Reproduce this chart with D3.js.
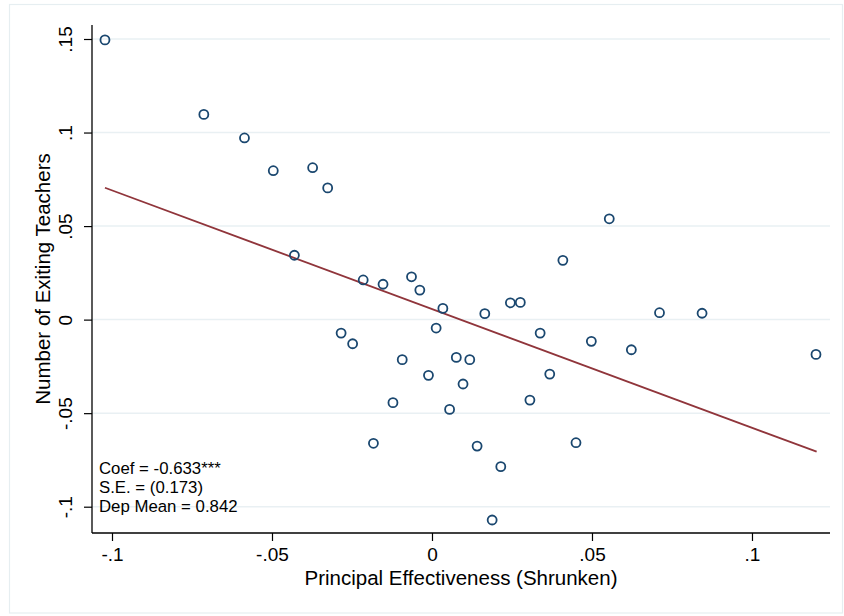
<!DOCTYPE html>
<html>
<head>
<meta charset="utf-8">
<script src="https://cdn.jsdelivr.net/npm/d3@7"></script>
<style>
body { margin: 0; background: #fff; }
svg { display: block; font-family: "Liberation Sans", Arial, sans-serif; }
</style>
</head>
<body>
<script>
// principal effectiveness (x) vs number of exiting teachers (y)
var effect = [-0.1022, -0.0713, -0.0586, -0.0496, -0.0373, -0.0326, -0.0430, -0.0215, -0.0153, -0.0064,
              -0.0038, 0.0034, 0.0013, 0.0165, 0.0245, 0.0276, 0.0338, -0.0284, -0.0248, -0.0093,
              0.0076, 0.0118, -0.0011, 0.0097, 0.0368, -0.0122, 0.0055, 0.0306, -0.0183, 0.0141,
              0.0554, 0.0409, 0.0711, 0.0844, 0.0498, 0.0623, 0.1200, 0.0450, 0.0215, 0.0188];
var exiting = [0.1495, 0.1097, 0.0971, 0.0796, 0.0812, 0.0704, 0.0344, 0.0212, 0.0189, 0.0229,
               0.0158, 0.0060, -0.0045, 0.0032, 0.0090, 0.0092, -0.0072, -0.0072, -0.0129, -0.0214,
               -0.0202, -0.0214, -0.0298, -0.0344, -0.0291, -0.0444, -0.0480, -0.0430, -0.0661, -0.0676,
               0.0539, 0.0317, 0.0037, 0.0034, -0.0116, -0.0161, -0.0186, -0.0658, -0.0786, -0.1071];
// fitted line end points
var fitX = [-0.1022, 0.1202];
var fitY = [0.0705, -0.0706];
var xTicks = [-0.1, -0.05, 0, 0.05, 0.1];
var xTickLabels = ["-.1", "-.05", "0", ".05", ".1"];
var yTicks = [-0.1, -0.05, 0, 0.05, 0.1, 0.15];
var yTickLabels = ["-.1", "-.05", "0", ".05", ".1", ".15"];
var notes = ["Coef = -0.633***", "S.E. = (0.173)", "Dep Mean = 0.842"];

var W = 844, H = 616;
var plotL = 92, plotR = 830, plotT = 25, plotB = 533;

var svg = d3.select("body").append("svg").attr("width", W).attr("height", H);

svg.append("rect").attr("x", 9.5).attr("y", 4.5).attr("width", 833).attr("height", 608.5)
   .attr("fill", "#fff").attr("stroke", "#e6eef1").attr("stroke-width", 1.2);

var x = d3.scaleLinear().domain([-0.10625, 0.12438]).range([plotL, plotR]);
var y = d3.scaleLinear().domain([-0.1, 0.15]).range([506.7, 39]);

// grid
svg.append("g").selectAll("line").data(yTicks).enter().append("line")
   .attr("x1", plotL).attr("x2", plotR)
   .attr("y1", function(d) { return y(d); }).attr("y2", function(d) { return y(d); })
   .attr("stroke", "#e9f0f3").attr("stroke-width", 1.5);

// axes
var xAxis = svg.append("g").attr("transform", "translate(0," + plotB + ")")
   .call(d3.axisBottom(x).tickValues(xTicks).tickSize(8).tickPadding(7)
         .tickFormat(function(d, i) { return xTickLabels[i]; }));
var yAxis = svg.append("g").attr("transform", "translate(" + plotL + ",0)")
   .call(d3.axisLeft(y).tickValues(yTicks).tickSize(8).tickPadding(0)
         .tickFormat(function(d, i) { return yTickLabels[i]; }));

[xAxis, yAxis].forEach(function(a) {
  a.select(".domain").attr("stroke", "#000").attr("stroke-width", 1.3);
  a.selectAll(".tick line").attr("stroke", "#000").attr("stroke-width", 1.2);
  a.selectAll("text").attr("fill", "#000").attr("font-size", 19).attr("font-family", "Liberation Sans, Arial, sans-serif");
});
xAxis.select(".domain").attr("d", "M" + plotL + ",0H" + plotR);
yAxis.select(".domain").attr("d", "M0," + plotT + "V" + plotB);
yAxis.selectAll(".tick text")
   .attr("x", null).attr("dy", null).attr("text-anchor", "middle")
   .attr("transform", "translate(-20,0) rotate(-90)");

// fitted line
svg.append("line")
   .attr("x1", x(fitX[0])).attr("y1", y(fitY[0]))
   .attr("x2", x(fitX[1])).attr("y2", y(fitY[1]))
   .attr("stroke", "#90353b").attr("stroke-width", 1.8);

// points
svg.append("g").selectAll("circle").data(effect).enter().append("circle")
   .attr("cx", function(d) { return x(d); })
   .attr("cy", function(d, i) { return y(exiting[i]); })
   .attr("r", 4.5)
   .attr("fill", "none").attr("stroke", "#1a476f").attr("stroke-width", 1.8);

// notes
svg.append("g").selectAll("text").data(notes).enter().append("text")
   .attr("x", 99).attr("y", function(d, i) { return 474 + i * 19; })
   .attr("font-size", 16.8).attr("fill", "#000")
   .text(function(d) { return d; });

// titles
svg.append("text").attr("x", (plotL + plotR) / 2).attr("y", 585)
   .attr("text-anchor", "middle").attr("font-size", 20.5).attr("fill", "#000")
   .text("Principal Effectiveness (Shrunken)");
svg.append("text").attr("transform", "translate(50," + ((plotT + plotB) / 2) + ") rotate(-90)")
   .attr("text-anchor", "middle").attr("font-size", 20.5).attr("fill", "#000")
   .text("Number of Exiting Teachers");
</script>
</body>
</html>
